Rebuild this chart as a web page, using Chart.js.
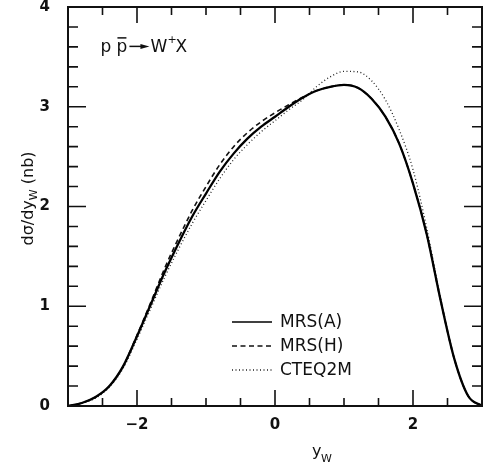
<!DOCTYPE html>
<html><head><meta charset="utf-8">
<script src="https://cdn.jsdelivr.net/npm/chart.js@4.4.1/dist/chart.umd.min.js"></script>
<style>html,body{margin:0;padding:0;background:#fff;}#wrap{width:485px;height:465px;}</style>
</head><body><div id="wrap"><canvas id="c" width="485" height="465"></canvas></div>
<script>
// ---- data ----
const yW = [-3.0,-2.8,-2.6,-2.4,-2.2,-2.0,-1.8,-1.6,-1.4,-1.2,-1.0,-0.8,-0.6,-0.4,-0.2,0.0,0.2,0.4,0.6,0.8,1.0,1.2,1.4,1.6,1.8,2.0,2.2,2.4,2.6,2.8,3.0];
const mrsA = [0,0.03,0.09,0.20,0.40,0.70,1.02,1.34,1.63,1.90,2.13,2.35,2.53,2.68,2.80,2.90,3.00,3.09,3.16,3.20,3.22,3.19,3.08,2.90,2.63,2.23,1.72,1.06,0.47,0.10,0];
const mrsH = [0,0.03,0.09,0.20,0.40,0.71,1.04,1.38,1.68,1.96,2.20,2.42,2.60,2.74,2.85,2.94,3.02,3.095,3.16,3.20,3.22,3.19,3.08,2.90,2.63,2.23,1.72,1.06,0.47,0.10,0];
const cteq2m = [0,0.03,0.08,0.19,0.38,0.67,0.98,1.29,1.57,1.83,2.06,2.28,2.47,2.62,2.75,2.86,2.97,3.07,3.20,3.30,3.355,3.35,3.26,3.07,2.77,2.37,1.78,1.08,0.48,0.10,0];
const seriesNames = ['MRS(A)','MRS(H)','CTEQ2M'];
const xLabelValues = [-2,0,2];
const xLabelTexts = ['\u22122','0','2'];
const xTickMarks = [-2.5,-2,-1.5,-1,-0.5,0,0.5,1,1.5,2,2.5];
const yLabelValues = [0,1,2,3,4];
const yLabelTexts = ['0','1','2','3','4'];
const yTickMarks = [0.2,0.4,0.6,0.8,1,1.2,1.4,1.6,1.8,2,2.2,2.4,2.6,2.8,3,3.2,3.4,3.6,3.8];
const xTitle = ['y','W'];
const yTitle = ['d\u03c3/dy','W',' (nb)'];
const processText = ['p','p','W','+','X'];

const FONT = '"DejaVu Sans"';
const pts = arr => yW.map((x,i)=>({x:x,y:arr[i]}));

const decor = {
  id:'decor',
  afterDatasetsDraw(chart){
    const {ctx, chartArea:a, scales:{x,y}} = chart;
    ctx.save();
    ctx.strokeStyle='#111'; ctx.fillStyle='#111';
    // frame
    ctx.lineWidth=2;
    ctx.strokeRect(a.left, a.top, a.right-a.left, a.bottom-a.top);
    // tick marks
    ctx.lineWidth=1.6;
    ctx.beginPath();
    xTickMarks.forEach(v=>{
      const px = x.getPixelForValue(v);
      const L = xLabelValues.includes(v) ? 16 : 8;
      ctx.moveTo(px,a.bottom); ctx.lineTo(px,a.bottom-L);
      ctx.moveTo(px,a.top); ctx.lineTo(px,a.top+L);
    });
    yTickMarks.forEach(v=>{
      const py = y.getPixelForValue(v);
      const L = yLabelValues.includes(v) ? 18 : 10;
      ctx.moveTo(a.left,py); ctx.lineTo(a.left+L,py);
      ctx.moveTo(a.right,py); ctx.lineTo(a.right-L,py);
    });
    ctx.stroke();

    // legend
    const ds = chart.data.datasets;
    const lx0 = a.left+164, lx1 = a.left+204, tx = a.left+212;
    const rows = [a.bottom-84, a.bottom-60, a.bottom-36];
    ctx.textBaseline='middle'; ctx.textAlign='left';
    ctx.font = '17px '+FONT;
    ds.forEach((d,i)=>{
      ctx.save();
      ctx.strokeStyle=d.borderColor;
      ctx.lineWidth = i===0 ? 1.5 : d.borderWidth;
      ctx.setLineDash(d.borderDash||[]);
      ctx.beginPath(); ctx.moveTo(lx0,rows[i]); ctx.lineTo(lx1,rows[i]); ctx.stroke();
      ctx.restore();
      ctx.fillText(d.label, tx, rows[i]+1);
    });

    // process annotation
    const bx = x.getPixelForValue(-2.53), by = y.getPixelForValue(3.55);
    ctx.textBaseline='alphabetic';
    ctx.font='17px '+FONT;
    ctx.fillText(processText[0], bx, by);
    ctx.fillText(processText[1], bx+16, by);
    ctx.lineWidth=1.5;
    ctx.beginPath(); ctx.moveTo(bx+17,by-14); ctx.lineTo(bx+26,by-14); ctx.stroke();
    ctx.beginPath(); ctx.moveTo(bx+29,by-5.5); ctx.lineTo(bx+42,by-5.5); ctx.stroke();
    ctx.beginPath(); ctx.moveTo(bx+40,by-8); ctx.lineTo(bx+49,by-5.5); ctx.lineTo(bx+40,by-3); ctx.closePath(); ctx.fill();
    ctx.fillText(processText[2], bx+50, by);
    ctx.font='11px '+FONT;
    ctx.fillText(processText[3], bx+67, by-9);
    ctx.font='17px '+FONT;
    ctx.fillText(processText[4], bx+75, by);

    // x title
    ctx.font='16px '+FONT;
    ctx.fillText(xTitle[0], a.left+244, a.bottom+50);
    ctx.font='11px '+FONT;
    ctx.fillText(xTitle[1], a.left+253, a.bottom+56);

    // y title (rotated)
    ctx.save();
    ctx.translate(33, (a.top+a.bottom)/2 - 8);
    ctx.rotate(-Math.PI/2);
    ctx.font='16px '+FONT; const w0 = ctx.measureText(yTitle[0]).width, w2 = ctx.measureText(yTitle[2]).width;
    ctx.font='11px '+FONT; const w1 = ctx.measureText(yTitle[1]).width;
    let sx = -(w0+w1+w2)/2;
    ctx.font='16px '+FONT; ctx.fillText(yTitle[0], sx, 0);
    ctx.font='11px '+FONT; ctx.fillText(yTitle[1], sx+w0, 4);
    ctx.font='16px '+FONT; ctx.fillText(yTitle[2], sx+w0+w1, 0);
    ctx.restore();
    ctx.restore();
  }
};

new Chart(document.getElementById('c'), {
  type:'line',
  data:{datasets:[
    {label:seriesNames[0], data:pts(mrsA), borderColor:'#000', borderWidth:2.3, pointRadius:0, cubicInterpolationMode:'monotone', fill:false},
    {label:seriesNames[1], data:pts(mrsH), borderColor:'#111', borderWidth:1.6, borderDash:[5,3.5], pointRadius:0, cubicInterpolationMode:'monotone', fill:false},
    {label:seriesNames[2], data:pts(cteq2m), borderColor:'#222', borderWidth:1.3, borderDash:[1,2.5], pointRadius:0, cubicInterpolationMode:'monotone', fill:false}
  ]},
  options:{
    responsive:false, animation:false, devicePixelRatio:1,
    layout:{padding:{top:7,right:3,left:0,bottom:0}},
    plugins:{legend:{display:false}, tooltip:{enabled:false}},
    scales:{
      x:{type:'linear', min:-3, max:3,
        grid:{display:false}, border:{display:false},
        afterBuildTicks:s=>{s.ticks = xLabelValues.map(v=>({value:v}));},
        ticks:{autoSkip:false, maxRotation:0, padding:2, color:'#111', font:{family:'DejaVu Sans', size:15, weight:'bold'},
          callback:(v)=>{const i=xLabelValues.indexOf(v); return i>=0?xLabelTexts[i]:'';}},
        afterFit:s=>{s.height=59; s.paddingLeft=0; s.paddingRight=0; s.paddingTop=0; s.paddingBottom=0;}
      },
      y:{type:'linear', min:0, max:4,
        grid:{display:false}, border:{display:false},
        afterBuildTicks:s=>{s.ticks = yLabelValues.map(v=>({value:v}));},
        ticks:{autoSkip:false, padding:10, color:'#111', font:{family:'DejaVu Sans', size:15, weight:'bold'},
          callback:(v)=>{const i=yLabelValues.indexOf(v); return i>=0?yLabelTexts[i]:'';}},
        afterFit:s=>{s.width=68; s.paddingLeft=0; s.paddingRight=0; s.paddingTop=0; s.paddingBottom=0;}
      }
    }
  },
  plugins:[decor]
});
</script></body></html>
